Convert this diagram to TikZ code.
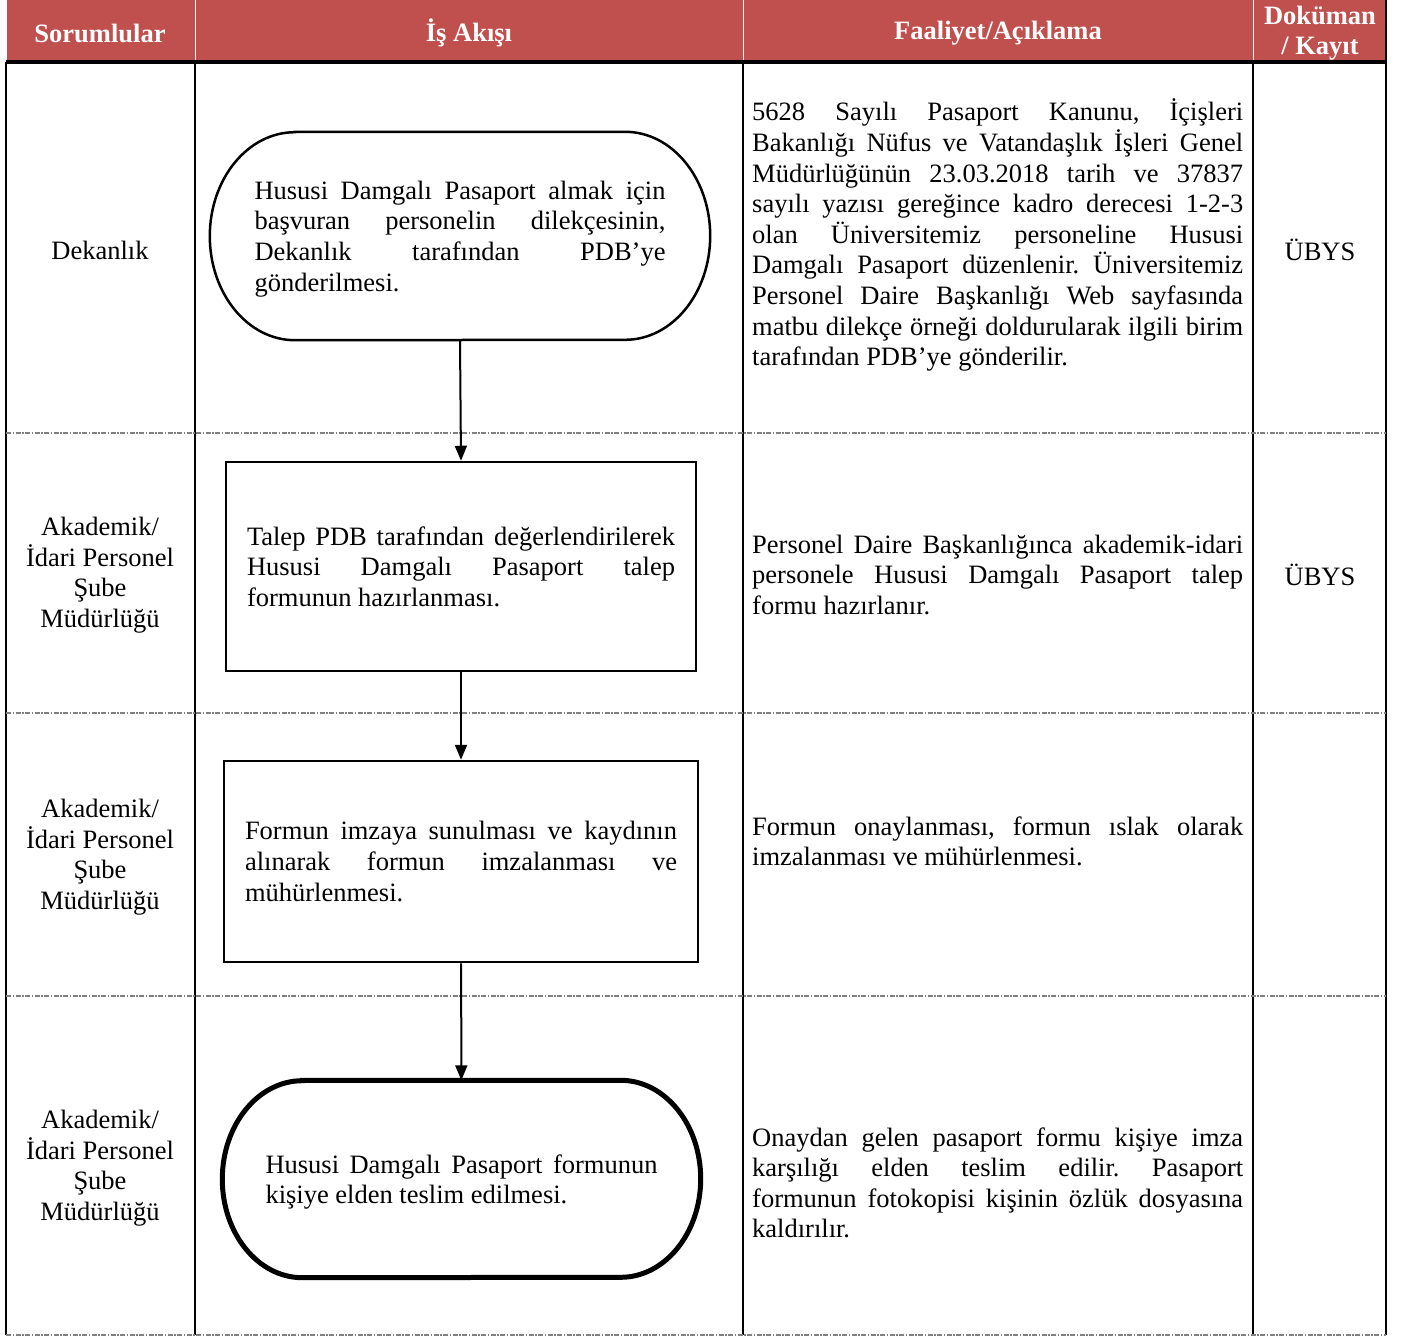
\documentclass[tikz,border=0pt]{standalone}
\usepackage{fontspec}
\setmainfont{Liberation Serif}
\usetikzlibrary{shapes,arrows.meta}
\definecolor{headred}{RGB}{192,80,77}
\tolerance=9999 \hbadness=10000 \hyphenpenalty=10000 \exhyphenpenalty=10000
\frenchspacing

\begin{document}
\begin{tikzpicture}[x=1pt,y=-1pt]
            % Hususi damgali pasaport is akisi
            \tikzstyle{body} = [font=\fontsize{26.5}{30.6}\selectfont, inner sep=0pt];
            \tikzstyle{head} = [font=\fontsize{26.5}{30}\selectfont\bfseries, text=white, align=center, inner sep=0pt];
            \tikzstyle{block} = [body, draw, line width=2.5pt, align=justify];
            \tikzstyle{term} = [body, align=justify];
            \tikzstyle{desc} = [body, anchor=base west, text width=491pt, align=justify];
            \tikzstyle{resp} = [body, align=center];
            \tikzstyle{sep} = [draw=gray, line width=1.3pt, dash pattern=on 5pt off 1.5pt on 1.5pt off 1.5pt];
            \tikzstyle{flow} = [line width=2pt, -{Triangle[length=15pt,width=12pt]}];

            \fill[white] (0,0) rectangle (1409,1338);
            \useasboundingbox (0,0) rectangle (1409,1338);

            \fill[headred] (7,0) rectangle (1386,62);
            \foreach \x in {195,743,1253} \draw[white, line width=1pt] (\x,0) -- (\x,62);
            \foreach \x in {6,195,743,1253} \draw[line width=2.5pt] (\x,62) -- (\x,1335);
            \draw[line width=2.5pt] (1386,0) -- (1386,1335);
            \draw[line width=4pt] (6,62) -- (1387,62);
            \foreach \y in {433,713,996,1335} \draw[sep] (6,\y) -- (1386,\y);

            \node[head] (head_resp) at (100,33) {Sorumlular};
            \node[head] (head_flow) at (469,33) {İş Akışı};
            \node[head] (head_desc) at (998,33) {Faaliyet/Açıklama};
            \node[head] (head_doc) at (1320,33) {Doküman\\/ Kayıt};

            \node[resp] (resp_dekan) at (100,250) {Dekanlık};
            \node[resp] (resp_talep) at (100,575) {Akademik/\\İdari Personel\\Şube\\Müdürlüğü};
            \node[resp] (resp_imza) at (100,857) {Akademik/\\İdari Personel\\Şube\\Müdürlüğü};
            \node[resp] (resp_teslim) at (100,1168) {Akademik/\\İdari Personel\\Şube\\Müdürlüğü};

            \node[term, text width=411pt, text depth=91.8pt, minimum width=500pt, minimum height=208pt] (flow_start) at (460,236)
                {Hususi Damgalı Pasaport almak için\linebreak başvuran personelin dilekçesinin,\linebreak Dekanlık tarafından PDB’ye\linebreak gönderilmesi.};
            \draw[line width=2.5pt] ([xshift=85pt]flow_start.north west) -- ([xshift=-85pt]flow_start.north east)
                arc[start angle=90, end angle=-90, x radius=85pt, y radius=104pt] -- ([xshift=85pt]flow_start.south west)
                arc[start angle=270, end angle=90, x radius=85pt, y radius=104pt] -- cycle;
            \node[block, text width=428pt, minimum width=470pt, minimum height=209pt] (flow_form) at (461,566.5)
                {Talep PDB tarafından değerlendirilerek\linebreak Hususi Damgalı Pasaport talep\linebreak formunun hazırlanması.};
            \node[block, text width=432pt, minimum width=474pt, minimum height=201pt] (flow_sign) at (461,861.5)
                {Formun imzaya sunulması ve kaydının\linebreak alınarak formun imzalanması ve\linebreak mühürlenmesi.};
            \node[term, text width=392pt, text depth=30.6pt, minimum width=478pt, minimum height=197pt] (flow_end) at (461.5,1179)
                {Hususi Damgalı Pasaport formunun\linebreak kişiye elden teslim edilmesi.};
            \draw[line width=5pt] ([xshift=80pt]flow_end.north west) -- ([xshift=-80pt]flow_end.north east)
                arc[start angle=90, end angle=-90, x radius=80pt, y radius=98.5pt] -- ([xshift=80pt]flow_end.south west)
                arc[start angle=270, end angle=90, x radius=80pt, y radius=98.5pt] -- cycle;

            \draw[flow] (flow_start.south) -- (flow_form.north);
            \draw[flow] (flow_form) -- (flow_sign);
            \draw[flow] (flow_sign) -- (flow_end);

            \node[desc] (desc_start) at (752,121)
                {5628 Sayılı Pasaport Kanunu, İçişleri\linebreak Bakanlığı Nüfus ve Vatandaşlık İşleri Genel\linebreak Müdürlüğünün 23.03.2018 tarih ve 37837\linebreak sayılı yazısı gereğince kadro derecesi 1-2-3\linebreak olan Üniversitemiz personeline Hususi\linebreak Damgalı Pasaport düzenlenir. Üniversitemiz\linebreak Personel Daire Başkanlığı Web sayfasında\linebreak matbu dilekçe örneği doldurularak ilgili birim\linebreak tarafından PDB’ye gönderilir.};
            \node[desc] (desc_form) at (752,553)
                {Personel Daire Başkanlığınca akademik-idari\linebreak personele Hususi Damgalı Pasaport talep\linebreak formu hazırlanır.};
            \node[desc] (desc_sign) at (752,835)
                {Formun onaylanması, formun ıslak olarak\linebreak imzalanması ve mühürlenmesi.};
            \node[desc] (desc_end) at (752,1146)
                {Onaydan gelen pasaport formu kişiye imza\linebreak karşılığı elden teslim edilir. Pasaport\linebreak formunun fotokopisi kişinin özlük dosyasına\linebreak kaldırılır.};

            \node[resp] (doc_start) at (1320,250) {ÜBYS};
            \node[resp] (doc_form) at (1320,575) {ÜBYS};

        \end{tikzpicture}
\end{document}
